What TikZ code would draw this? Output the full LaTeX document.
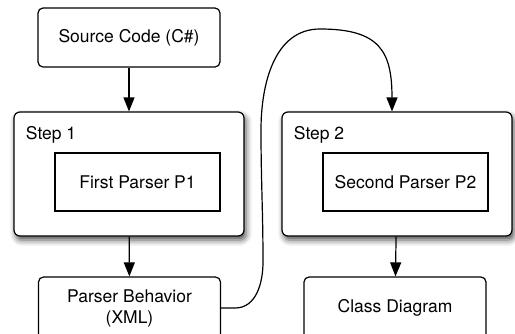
\documentclass[tikz,border=0pt]{standalone}
\usepackage{fontspec}
\setmainfont{TeX Gyre Heros}
\usepackage{tikz}
\usetikzlibrary{arrows.meta,shadows.blur}

\begin{document}
\begin{tikzpicture}[x=1pt, y=-1pt, line width=1.2pt,
    font=\fontsize{17.5}{21}\selectfont,
    box/.style={draw, rounded corners=5pt, align=center, inner sep=0pt,
      minimum width=182pt, minimum height=#1},
    box/.default=59pt,
    stepbox/.style={draw, fill=white, rounded corners=6pt, inner sep=0pt,
      minimum width=230pt, minimum height=124pt,
      blur shadow={shadow xshift=2pt, shadow yshift=-4pt,
        shadow blur radius=6pt, shadow opacity=70}},
    parser/.style={draw, inner sep=0pt, minimum width=165pt, minimum height=58pt},
    flow/.style={-{Triangle[length=14pt,width=11pt]}}]
  \clip (0,0) rectangle (515,333);
  \node[box] (src) at (129,37.5) {Source Code (C\#)};
  \node[stepbox] (step1) at (129,174) {};
  \node[stepbox] (step2) at (397,174) {};
  \node[anchor=base west] (lbl1) at (22,139) {Step 1};
  \node[anchor=base west] (lbl2) at (290,139) {Step 2};
  \node[parser] (p1) at (137.5,182) {First Parser P1};
  \node[parser] (p2) at (405.5,182) {Second Parser P2};
  \node[box=62pt] (pb) at (129.5,308) {Parser Behavior\\(XML)};
  \node[box=62pt] (cd) at (395,308) {Class Diagram};
  \coordinate (tgt) at ([xshift=-5pt]step2.north);

  \draw[flow] (src) -- (step1);
  \draw[flow] (step1) -- (pb);
  \draw[flow] (step2) -- (cd);
  % output of step 1 fed back into step 2
  \draw[flow] (pb.east) -- ++(14,0) to[out=0,in=-90] (263,262)
    to[out=90,in=-90] (261,130) to[out=90,in=180] (320,29)
    to[out=0,in=90,looseness=1.4] (tgt);
\end{tikzpicture}
\end{document}
